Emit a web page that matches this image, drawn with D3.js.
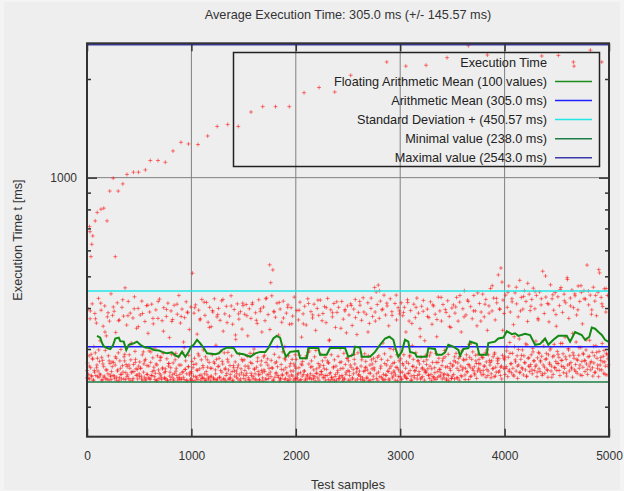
<!DOCTYPE html>
<html>
<head>
<meta charset="utf-8">
<script src="https://cdn.jsdelivr.net/npm/d3@7"></script>
<style>
  body { margin: 0; background: #f4f4f4; }
  text { font-family: "Liberation Sans", Arial, sans-serif; }
</style>
</head>
<body>
<div id="chart"></div>
<script>
// Execution time samples (ms). execTimes: every 5th test sample, execTimesB: every 10th, offset by 2
const SAMPLE_STEP = 5;
const execTimes = [
  245,272,398,251,286,243,371,263,289,247,412,279,241,305,258,385,292,249,360,268,281,257,428,246,275,318,250,394,283,242,277,352,265,248,406,297,243,329,259,376,252,286,241,365,271,247,442,256,274,380,
  249,273,391,244,268,337,281,246,415,259,292,240,368,276,251,299,243,402,267,255,378,284,276,461,242,269,355,265,250,419,244,288,262,386,278,254,312,241,373,269,256,433,295,279,261,347,250,243,399,266,
  252,274,381,262,248,420,288,241,294,270,246,364,279,243,407,267,251,335,245,296,389,242,273,249,411,256,282,358,264,247,302,253,395,240,268,286,372,259,244,426,277,250,283,242,366,263,291,401,254,245,
  261,243,377,280,241,414,266,271,325,255,242,392,289,246,369,272,240,408,253,278,291,262,249,383,241,284,437,245,251,360,268,243,397,293,256,315,242,374,260,276,418,252,240,387,265,287,344,254,241,403,
  256,275,511,263,248,386,281,240,409,270,245,333,258,290,394,249,261,371,241,278,425,246,267,298,244,252,380,284,241,416,250,264,362,243,273,402,247,240,351,262,288,389,245,274,427,242,259,308,279,376,
  243,265,399,281,246,367,258,241,421,275,270,340,244,292,384,262,240,405,253,279,293,259,242,378,267,245,436,286,256,357,241,263,396,248,274,321,257,252,412,243,268,370,289,240,390,261,254,345,276,407,
  250,278,383,266,241,410,253,285,329,245,262,398,240,273,372,249,271,415,243,291,300,260,252,387,241,264,359,282,256,424,242,251,391,268,276,338,254,240,403,259,287,366,243,273,429,250,280,382,244,262,
  542,255,478,277,436,262,523,241,391,289,246,375,252,274,414,265,249,331,283,240,397,244,269,362,251,294,420,259,242,305,278,263,386,254,241,409,286,248,357,243,271,401,250,279,378,257,241,432,266,288,
  244,279,393,250,241,368,263,287,417,254,242,326,268,275,384,251,257,405,240,282,355,248,243,427,293,270,296,246,252,390,276,265,373,249,244,411,284,240,342,253,261,399,245,271,380,264,250,423,289,256,
  251,276,385,267,246,404,283,241,361,260,249,428,272,272,318,252,240,395,288,245,376,242,263,413,278,247,349,266,241,388,254,285,402,243,248,301,261,274,419,246,240,370,291,244,392,269,251,336,281,406,
  258,276,381,249,241,412,264,287,354,243,260,397,279,270,425,241,255,332,262,292,388,250,257,408,242,266,367,284,245,430,256,241,290,263,275,383,244,259,415,286,240,359,268,253,399,278,261,377,242,281,
  263,462,389,275,448,252,410,241,470,286,372,247,420,266,279,395,243,313,251,438,290,242,381,249,268,406,277,256,353,241,262,427,284,253,390,245,271,299,257,273,413,250,264,368,288,240,401,259,276,384,
  247,280,415,243,255,379,268,288,402,250,246,338,274,244,424,253,271,365,284,258,393,248,241,307,265,279,411,245,257,374,292,263,429,249,276,386,256,270,346,243,283,405,261,247,391,275,259,318,254,287,
  255,278,397,261,249,374,286,266,418,251,240,357,273,247,406,243,263,383,291,273,327,245,256,432,281,260,392,248,254,365,267,276,410,250,245,297,284,264,388,243,251,421,289,240,377,262,271,349,244,400,
  248,268,409,276,243,386,274,291,431,262,245,365,281,241,417,285,266,338,247,259,398,279,277,452,250,262,381,288,256,423,269,242,310,283,264,404,248,279,371,294,258,437,265,250,392,276,271,353,257,289,
  262,279,413,270,255,389,286,283,441,258,251,376,266,292,425,274,260,342,249,288,406,277,268,459,245,276,392,261,284,429,247,292,368,264,255,415,281,271,505,280,257,397,249,530,266,480,287,423,262,385,
  278,251,438,265,296,402,247,283,467,259,314,389,270,254,427,291,262,356,248,305,445,274,257,412,286,244,376,268,322,486,255,279,431,263,298,397,250,286,452,272,259,419,247,309,364,281,266,441,256,393,
  269,288,425,252,301,460,276,258,398,265,317,437,247,282,372,293,261,448,256,274,409,285,249,518,268,306,385,253,279,432,291,260,413,246,288,363,272,298,471,257,266,427,284,251,394,310,263,446,275,352,
  258,295,433,271,283,407,249,312,462,266,277,388,290,254,441,262,326,415,279,248,495,268,301,372,257,286,429,273,264,454,246,292,401,281,259,436,269,315,381,253,277,467,287,262,419,250,303,447,275,358,
  264,289,452,277,256,426,298,270,541,251,284,409,266,319,438,259,275,395,293,248,463,272,286,420,255,307,379,281,262,447,247,295,512,268,277,431,259,312,404,285,253,458,274,266,389,291,250,437,280,269
];
const SAMPLE_STEP_B = 10, SAMPLE_OFFSET_B = 2;
const execTimesB = [
  258,244,266,392,249,281,241,255,371,263,247,298,252,414,240,270,246,338,259,243,387,276,250,242,265,403,248,284,241,257,366,245,262,251,424,243,289,254,247,379,268,241,312,256,244,398,273,249,260,351,
  247,262,243,385,255,276,241,251,408,266,244,294,249,372,258,242,270,241,419,253,283,246,261,340,244,256,396,240,271,248,263,364,251,243,287,257,411,245,268,242,377,254,246,303,260,241,389,265,250,243,
  253,241,269,401,247,259,242,286,368,250,244,263,417,241,256,278,245,349,262,248,393,243,271,252,241,382,266,246,295,255,425,242,260,249,361,274,244,251,406,240,267,257,331,246,263,384,250,243,279,414,
  244,258,249,379,266,242,291,253,410,247,261,243,367,275,250,241,398,258,245,284,256,427,242,268,251,344,247,263,241,389,272,254,305,246,416,243,260,249,373,281,244,252,402,240,266,257,358,248,270,243,
  262,245,253,394,241,270,248,358,257,243,286,250,413,244,264,242,381,259,247,297,253,423,241,268,256,366,245,261,249,401,276,242,320,254,246,387,265,240,251,418,258,244,273,347,249,262,242,396,255,281,
  241,256,268,407,245,252,289,374,262,243,250,419,247,278,241,389,258,264,246,338,253,241,429,270,248,259,365,244,283,255,452,262,246,397,241,271,250,414,257,243,301,266,380,248,254,241,438,263,247,392,
  255,242,271,388,248,262,244,416,253,287,241,359,266,249,258,402,243,276,251,327,245,263,422,241,257,269,377,250,244,292,261,409,246,254,242,369,273,248,260,431,243,281,252,396,241,265,249,351,258,244,
  266,251,284,403,245,272,258,437,249,296,263,376,242,279,255,419,268,247,313,261,392,253,287,244,445,271,259,365,250,282,266,411,246,298,257,386,273,252,468,262,289,248,428,276,255,397,264,243,342,281,
  284,262,305,447,256,291,271,418,250,327,278,463,266,299,254,392,287,261,434,273,311,248,476,282,265,405,259,294,276,449,268,255,368,291,277,427,252,318,264,501,280,258,411,269,302,246,439,286,263,382,
  271,289,258,456,277,312,265,421,284,253,489,298,270,406,261,335,287,442,256,279,395,303,268,468,249,291,427,276,320,260,451,285,272,383,263,306,254,437,293,268,524,259,283,412,274,297,251,459,288,265
];

// Slow outlier samples (the rising curve above the cloud)
const outlierSamples = [24,29,38,46,55,79,98,134,161,192,218,251,271,299,343,383,445,493,559,606,680,750,824,900,972,1063,1156,1247,1348,1449,1571,1683,1806,1938,2079,2223,2373,2526,2871,3054,3248,3449,3653,3835,4356,4515,4659,4665,4822,4931];
const outlierTimes   = [709,684,574,626,664,738,783,801,807,738,910,996,574,910,957,1023,1039,1039,1056,1128,1128,1114,1206,1282,1267,1262,1340,1433,1453,1433,1586,1647,1647,1647,1816,1884,1825,2053,2254,2189,2203,2323,2527,2367,2351,2360,2254,2189,2449,2254];

// Floating arithmetic mean over 100 values
const floatSamples = [96,127,144,160,192,223,249,271,304,319,352,376,400,447,479,511,558,606,639,687,719,766,814,846,878,910,942,974,996,1022,1054,1085,1118,1150,1229,1262,1293,1341,1405,1437,1501,1564,1612,1660,1708,
  1737,1785,1817,1849,1881,1906,1945,2024,2041,2105,2120,2216,2232,2296,2328,2472,2503,2551,2567,2615,2632,2711,2759,2807,2855,2896,2934,2960,2982,3015,3046,3078,3094,3142,3159,3254,3270,3334,
  3350,3398,3430,3461,3509,3557,3573,3605,3653,3669,3733,3758,3829,3844,3908,3940,3988,4021,4069,4100,4132,4196,4244,4292,4340,4388,4419,4467,4515,4595,4627,4675,4739,4771,4812,4835,4867,4899,4931,4962,5000];
const floatMeans = [329,325,313,306,302,300,308,323,325,317,316,298,309,312,316,309,303,302,298,297,294,291,293,287,284,294,284,294,305,309,320,312,302,291,289,291,298,303,302,291,289,284,291,294,294,
  302,323,329,325,298,284,294,296,281,281,302,302,288,288,302,302,284,288,305,303,284,284,294,309,323,327,320,298,284,294,320,316,294,291,284,284,302,300,
  288,288,293,309,305,298,286,300,302,316,311,288,288,313,316,323,325,340,333,335,329,334,331,309,311,323,309,320,329,329,316,338,331,320,327,349,346,338,331,320,315];

// Summary values
const meanTime = 305.0;
const stdPlus = 450.57;
const minTime = 238.0;
const maxTime = 2543.0;

const xTicks = [0, 1000, 2000, 3000, 4000, 5000];
const yTicks = [200, 300, 400, 500, 600, 700, 800, 900, 1000, 2000];

const legendLabels = ["Execution Time", "Floating Arithmetic Mean (100 values)", "Arithmetic Mean (305.0 ms)",
  "Standard Deviation + (450.57 ms)", "Minimal value (238.0 ms)", "Maximal value (2543.0 ms)"];
const legendColors = [null, "#1c8c1c", "#2020ff", "#22e6e6", "#1e7d46", "#3a3aa8"];

const W = 624, H = 491;
const plot = {left: 87, right: 609, top: 43.3, bottom: 436.7};
const FONT = 12.7;

const svg = d3.select("#chart").append("svg")
  .attr("width", W)
  .attr("height", H);

svg.append("rect")
  .attr("x", 4).attr("y", 2)
  .attr("width", 616).attr("height", 488)
  .attr("fill", "#eeeeee");

const x = d3.scaleLinear().domain([0, 5000]).range([plot.left, plot.right]);
const y = d3.scaleLog().domain([162, 2570]).range([plot.bottom, plot.top]);

// grid lines
const grid = svg.append("g").attr("stroke", "#808080").attr("stroke-width", 1);
grid.selectAll("line.vx")
  .data([1000, 2000, 3000, 4000])
  .join("line")
  .attr("x1", d => x(d)).attr("x2", d => x(d))
  .attr("y1", plot.top).attr("y2", plot.bottom);
grid.append("line")
  .attr("x1", plot.left).attr("x2", plot.right)
  .attr("y1", y(1000)).attr("y2", y(1000));

// scatter points
const pts = svg.append("g")
  .attr("stroke", "#ff0f0f")
  .attr("stroke-width", 1)
  .attr("stroke-opacity", 0.55)
  .attr("fill", "none");

function cross(sx, ms) {
  const px = x(sx), py = y(ms);
  return "M" + (px - 2) + "," + py + "h4M" + px + "," + (py - 2) + "v4";
}

pts.selectAll("path.s")
  .data(execTimes)
  .join("path")
  .attr("d", (d, i) => cross(i * SAMPLE_STEP, d));

pts.selectAll("path.b")
  .data(execTimesB)
  .join("path")
  .attr("d", (d, i) => cross(i * SAMPLE_STEP_B + SAMPLE_OFFSET_B, d));

pts.selectAll("path.o")
  .data(outlierSamples)
  .join("path")
  .attr("d", (d, i) => cross(d, outlierTimes[i]));

// horizontal reference lines
const refs = [
  {v: stdPlus, color: legendColors[3]},
  {v: meanTime, color: legendColors[2]},
  {v: minTime, color: legendColors[4]},
  {v: maxTime, color: legendColors[5]}
];
svg.append("g").selectAll("line")
  .data(refs)
  .join("line")
  .attr("x1", plot.left).attr("x2", plot.right)
  .attr("y1", d => y(d.v)).attr("y2", d => y(d.v))
  .attr("stroke", d => d.color)
  .attr("stroke-width", 1.5);

// floating mean
const line = d3.line()
  .x(d => x(d[0]))
  .y(d => y(d[1]));
svg.append("path")
  .datum(floatSamples.map((s, i) => [s, floatMeans[i]]))
  .attr("d", line)
  .attr("fill", "none")
  .attr("stroke", "#138a13")
  .attr("stroke-width", 2);

// axes
const axisColor = "#333";
svg.append("g")
  .attr("transform", "translate(0," + plot.bottom + ")")
  .call(d3.axisBottom(x).tickValues(xTicks).tickSize(-8).tickPadding(15).tickFormat(d3.format("d")));
svg.append("g")
  .attr("transform", "translate(0," + plot.top + ")")
  .call(d3.axisTop(x).tickValues(xTicks).tickSize(-8).tickFormat(""));

const yAxis = svg.append("g")
  .attr("transform", "translate(" + plot.left + ",0)")
  .call(d3.axisLeft(y).tickValues(yTicks).tickSize(-4).tickPadding(10).tickFormat(d => d === 1000 ? "1000" : ""));
const yAxisR = svg.append("g")
  .attr("transform", "translate(" + plot.right + ",0)")
  .call(d3.axisRight(y).tickValues(yTicks).tickSize(-4).tickFormat(""));

// the 1000 tick is a major tick
yAxis.selectAll(".tick line").filter(d => d === 1000).attr("x2", 10);
yAxisR.selectAll(".tick line").filter(d => d === 1000).attr("x2", -10);

svg.selectAll(".domain").remove();
svg.selectAll(".tick line").attr("stroke", axisColor).attr("stroke-width", 1.5);
svg.selectAll(".tick text")
  .attr("fill", "#333")
  .style("font-size", "12px")
  .style("font-family", "'Liberation Sans', Arial, sans-serif");

// frame
svg.append("rect")
  .attr("x", plot.left).attr("y", plot.top)
  .attr("width", plot.right - plot.left)
  .attr("height", plot.bottom - plot.top)
  .attr("fill", "none")
  .attr("stroke", axisColor)
  .attr("stroke-width", 2);

// titles
svg.append("text")
  .attr("x", (plot.left + plot.right) / 2).attr("y", 19)
  .attr("text-anchor", "middle")
  .attr("font-size", FONT + "px").attr("fill", "#333")
  .text("Average Execution Time: 305.0 ms (+/- 145.57 ms)");

svg.append("text")
  .attr("x", (plot.left + plot.right) / 2).attr("y", 489)
  .attr("text-anchor", "middle")
  .attr("font-size", FONT + "px").attr("fill", "#333")
  .text("Test samples");

svg.append("text")
  .attr("transform", "translate(22," + (plot.top + plot.bottom) / 2 + ") rotate(-90)")
  .attr("text-anchor", "middle")
  .attr("font-size", FONT + "px").attr("fill", "#333")
  .text("Execution Time t [ms]");

// legend
const legend = svg.append("g");
legend.append("rect")
  .attr("x", 233.5).attr("y", 52.5)
  .attr("width", 366).attr("height", 114)
  .attr("fill", "none")
  .attr("stroke", "#222")
  .attr("stroke-width", 1.5);

const rows = legend.selectAll("g.row")
  .data(legendLabels)
  .join("g")
  .attr("transform", (d, i) => "translate(0," + (62.3 + i * 19.1) + ")");

rows.append("text")
  .attr("x", 547).attr("dy", "0.35em")
  .attr("text-anchor", "end")
  .attr("font-size", FONT + "px").attr("fill", "#222")
  .text(d => d);

rows.filter((d, i) => legendColors[i] !== null)
  .append("line")
  .attr("x1", 555).attr("x2", 592)
  .attr("stroke", d => legendColors[legendLabels.indexOf(d)])
  .attr("stroke-width", 1.5);
</script>
</body>
</html>
